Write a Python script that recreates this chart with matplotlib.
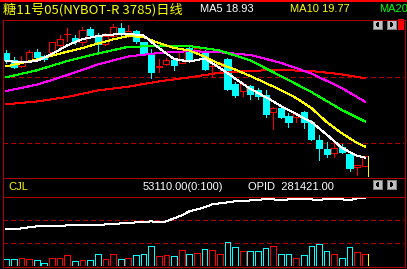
import matplotlib
matplotlib.use("Agg")
import matplotlib.pyplot as plt
from matplotlib.patches import Rectangle, Polygon
import numpy as np

# crisp 1px look like the trading terminal
plt.rcParams["lines.antialiased"] = False
plt.rcParams["patch.antialiased"] = False
LW = 0.72  # one pixel at 100 dpi

# ---- data (sugar No.11, daily) ----
opens = [26.78, 26.28, 25.78, 26.16, 26.86, 26.53, 26.83, 27.40, 28.19, 27.91,
         27.61, 28.58, 28.16, 27.46, 28.04, 28.66, 28.16, 28.41, 27.61, 26.71,
         25.73, 25.99, 26.23, 26.03, 27.13, 26.97, 26.88, 25.79, 25.83, 26.33,
         24.45, 23.95, 24.33, 24.00, 23.63, 22.37, 22.63, 22.07, 21.95, 22.37,
         21.62, 20.25, 19.57, 19.29, 19.74, 19.20, 18.24, 18.32]
highs = [27.03, 26.48, 26.58, 26.97, 27.11, 26.65, 27.62, 28.11, 28.66, 28.11,
         28.71, 28.73, 28.28, 28.26, 28.96, 29.03, 28.86, 28.53, 27.64, 27.08,
         26.33, 26.38, 26.41, 27.13, 27.25, 27.31, 27.01, 26.01, 26.13, 26.38,
         24.63, 24.63, 24.38, 24.13, 24.00, 22.70, 22.80, 22.30, 22.30, 22.45,
         21.75, 20.62, 20.07, 20.00, 19.95, 19.25, 18.37, 19.05]
lows = [26.03, 25.63, 25.76, 26.12, 26.41, 26.16, 26.80, 27.21, 27.66, 27.46,
        27.40, 28.04, 26.78, 27.38, 27.96, 28.04, 27.96, 27.53, 26.75, 24.87,
        25.39, 25.88, 25.54, 26.01, 26.13, 26.78, 25.50, 24.96, 25.38, 24.00,
        23.50, 23.55, 23.33, 23.33, 22.00, 21.07, 21.88, 21.25, 21.62, 21.13,
        20.25, 18.75, 18.99, 18.99, 19.25, 17.94, 17.62, 18.32]
closes = [26.28, 25.71, 26.16, 26.83, 26.48, 26.33, 27.59, 27.83, 28.23, 27.66,
          28.53, 28.16, 27.46, 28.04, 28.71, 28.21, 28.46, 27.70, 26.78, 25.39,
          25.78, 26.22, 25.90, 26.93, 26.26, 27.12, 25.58, 25.83, 26.05, 24.08,
          23.63, 24.45, 23.70, 23.57, 22.20, 22.67, 21.95, 21.62, 22.20, 21.58,
          20.30, 19.67, 19.20, 19.67, 19.37, 18.17, 18.37, 19.05]
volumes = [31860, 31860, 36410, 30340, 27310, 13650, 34890, 34890, 48540, 22760,
           27310, 27310, 53100, 31860, 53100, 31860, 36410, 48540, 53100, 89500,
           43990, 48540, 43990, 71300, 53100, 59160, 75850, 71300, 53100, 109220,
           84950, 66750, 66750, 66750, 80400, 89500, 53100, 53100, 34890, 48540,
           89500, 100120, 66750, 53100, 34890, 84950, 62200, 53110]
open_interest = [188421, 188421, 191421, 194421, 197421, 197421, 197421, 197421, 200421, 200421,
                 200421, 200421, 200421, 203421, 203421, 206421, 206421, 209421, 209421, 212421,
                 209421, 212421, 221421, 230421, 242421, 248421, 254421, 263421, 266421, 269421,
                 272421, 272421, 275421, 275421, 281421, 278421, 275421, 278421, 278421, 278421,
                 278421, 275421, 281421, 278421, 278421, 275421, 281421, 281421]

# moving averages as drawn on the chart
fast_idx = [0, 2, 4, 6, 8, 10, 12, 14, 16, 18, 20, 22, 24, 26, 28, 30, 32, 34, 36, 38, 40, 42, 44, 46, 47]
ma5 = [26.20, 26.07, 26.18, 26.71, 27.35, 27.83, 28.06, 28.17, 28.22, 28.10, 27.16, 26.33, 26.14,
       26.37, 25.66, 24.87, 24.08, 23.48, 22.80, 22.20, 21.60, 20.66, 19.65, 19.07, 18.93]
ma10 = [25.78, 26.03, 26.29, 26.59, 26.88, 27.16, 27.49, 27.80, 28.06, 27.98, 27.53, 27.16, 26.97,
        26.52, 25.96, 25.54, 25.05, 24.53, 24.00, 23.40, 22.65, 21.60, 20.75, 20.02, 19.77]
slow_idx = [0, 4, 8, 12, 16, 20, 24, 28, 32, 36, 40, 44, 47]
ma20 = [24.96, 25.48, 26.18, 26.74, 27.25, 27.30, 27.31, 26.97, 26.22, 25.05, 23.85, 22.50, 21.65]
ma30 = [23.93, 24.40, 25.12, 25.92, 26.52, 26.78, 26.92, 26.84, 26.63, 26.05, 25.24, 24.15, 23.13]
ma60 = [22.93, 23.14, 23.48, 23.97, 24.25, 24.65, 24.95, 25.30, 25.45, 25.50, 25.43, 25.18, 24.88]

price_grid = [20, 25]

title = "糖11号05(NYBOT-R 3785)日线"
ma5_label = "MA5 18.93"
ma10_label = "MA10 19.77"
ma20_label = "MA20"
vol_label = "CJL"
vol_value = "53110.00(0:100)"
oi_value = "OPID  281421.00"

# ---- layout ----
W, H = 407, 269
UP = "#FF0000"
DOWN = "#00FFFF"
FRAME = "#B00000"
TXT = ["Liberation Sans", "DejaVu Sans"]


def px_rect(x0, y0, x1, y1):
    return [x0 / W, 1 - y1 / H, (x1 - x0) / W, (y1 - y0) / H]


fig = plt.figure(figsize=(W / 100, H / 100), dpi=100, facecolor="black")
ax = fig.add_axes(px_rect(3, 20, 404, 177))
axv = fig.add_axes(px_rect(3, 197, 404, 266))
axo = axv.twinx()

x = np.arange(len(closes))
xlim = (-0.42, 52.14)
price_lim = (17.47, 29.26)

for a in (ax, axv, axo):
    a.set_facecolor("black")
    a.set_xlim(*xlim)
    a.set_xticks([])
    a.set_yticks([])
    for s in a.spines.values():
        s.set_visible(False)
axo.patch.set_visible(False)

# main panel: candles
ax.set_ylim(*price_lim)
for g in price_grid:
    ax.axhline(g, color=FRAME, lw=LW, ls=(0, (5, 4)), zorder=1)

o = np.array(opens)
c = np.array(closes)
up = c >= o
cols = np.where(up, UP, DOWN)
ax.vlines(x, lows, highs, colors=cols, lw=LW, zorder=2, antialiased=False)
body_bot = np.minimum(o, c)
body_h = np.maximum(np.abs(c - o), 0.015)
ax.bar(x, body_h, bottom=body_bot, width=0.8, color=np.where(up, "black", DOWN),
       edgecolor=cols, linewidth=LW, zorder=3)

ax.plot(slow_idx, ma60, color="#FF0000", lw=LW, zorder=4)
ax.plot(slow_idx, ma30, color="#FF00FF", lw=LW, zorder=4)
ax.plot(slow_idx, ma20, color="#00FF00", lw=LW, zorder=4)
ax.plot(fast_idx, ma10, color="#FFFF00", lw=LW, zorder=5)
ax.plot(fast_idx, ma5, color="white", lw=LW, zorder=5)

# current-bar marker
ax.vlines(x[-1] + 0.45, price_lim[0], closes[-1], colors="#FFFF00", lw=LW, zorder=6,
          antialiased=False)

# lower panel: volume + open interest
vmax = 314000
axv.set_ylim(0, vmax)
for frac in (1 / 3, 2 / 3):
    axv.axhline(vmax * frac, color=FRAME, lw=LW, ls=(0, (5, 4)), zorder=1)
axv.bar(x, volumes, width=0.75, color="none", edgecolor=cols, linewidth=LW, zorder=3)
axv.vlines(x[-1] + 0.45, 0, volumes[-1], colors="#FFFF00", lw=LW, zorder=4, antialiased=False)

axo.set_ylim(78421, 285411)
axo.plot(x, open_interest, color="white", lw=LW)

# overlay in pixel coordinates: frames, buttons, labels
axf = fig.add_axes([0, 0, 1, 1], zorder=10)
axf.set_xlim(0, W)
axf.set_ylim(H, 0)
axf.axis("off")
axf.patch.set_visible(False)

axf.hlines(0.7, 0, W, color="#FF0000", lw=1.2, antialiased=False)
axf.hlines([19.5, 177.5, 196.5, 266.5], 2.5, 404.5, color=FRAME, lw=LW, antialiased=False)
axf.vlines([2.5, 404.5], 19.5, 266.5, color=FRAME, lw=LW, antialiased=False)


def button(x0, y0, left):
    axf.add_patch(Rectangle((x0, y0), 9, 9, facecolor="#C0C0C0", edgecolor="#808080", lw=0.5))
    if left:
        tri = [(x0 + 6, y0 + 2), (x0 + 6, y0 + 7), (x0 + 3, y0 + 4.5)]
    else:
        tri = [(x0 + 3, y0 + 2), (x0 + 3, y0 + 7), (x0 + 6, y0 + 4.5)]
    axf.add_patch(Polygon(tri, closed=True, facecolor="black", edgecolor="none"))


button(373, 20, True)
button(387, 20, False)
axf.add_patch(Rectangle((398, 19), 6, 11, facecolor="#FF0000", edgecolor="none"))
button(373, 180, True)
button(387, 180, False)

axf.text(3, 9.5, title, color="#FFFF00", fontsize=9.5, va="center",
         family=["Noto Sans CJK SC", "DejaVu Sans"])
axf.text(200, 9.5, ma5_label, color="white", fontsize=8, va="center", family=TXT)
axf.text(290, 9.5, ma10_label, color="#FFFF00", fontsize=8, va="center", family=TXT)
axf.text(379, 9.5, ma20_label, color="#00FF00", fontsize=8, va="center", family=TXT)

axf.text(8, 187, vol_label, color="#FFFF00", fontsize=8, va="center", family=TXT)
axf.text(143, 187, vol_value, color="white", fontsize=8, va="center", family=TXT)
axf.text(248, 187, oi_value, color="white", fontsize=8, va="center", family=TXT)

fig.savefig("out.png", dpi=100, facecolor="black")
